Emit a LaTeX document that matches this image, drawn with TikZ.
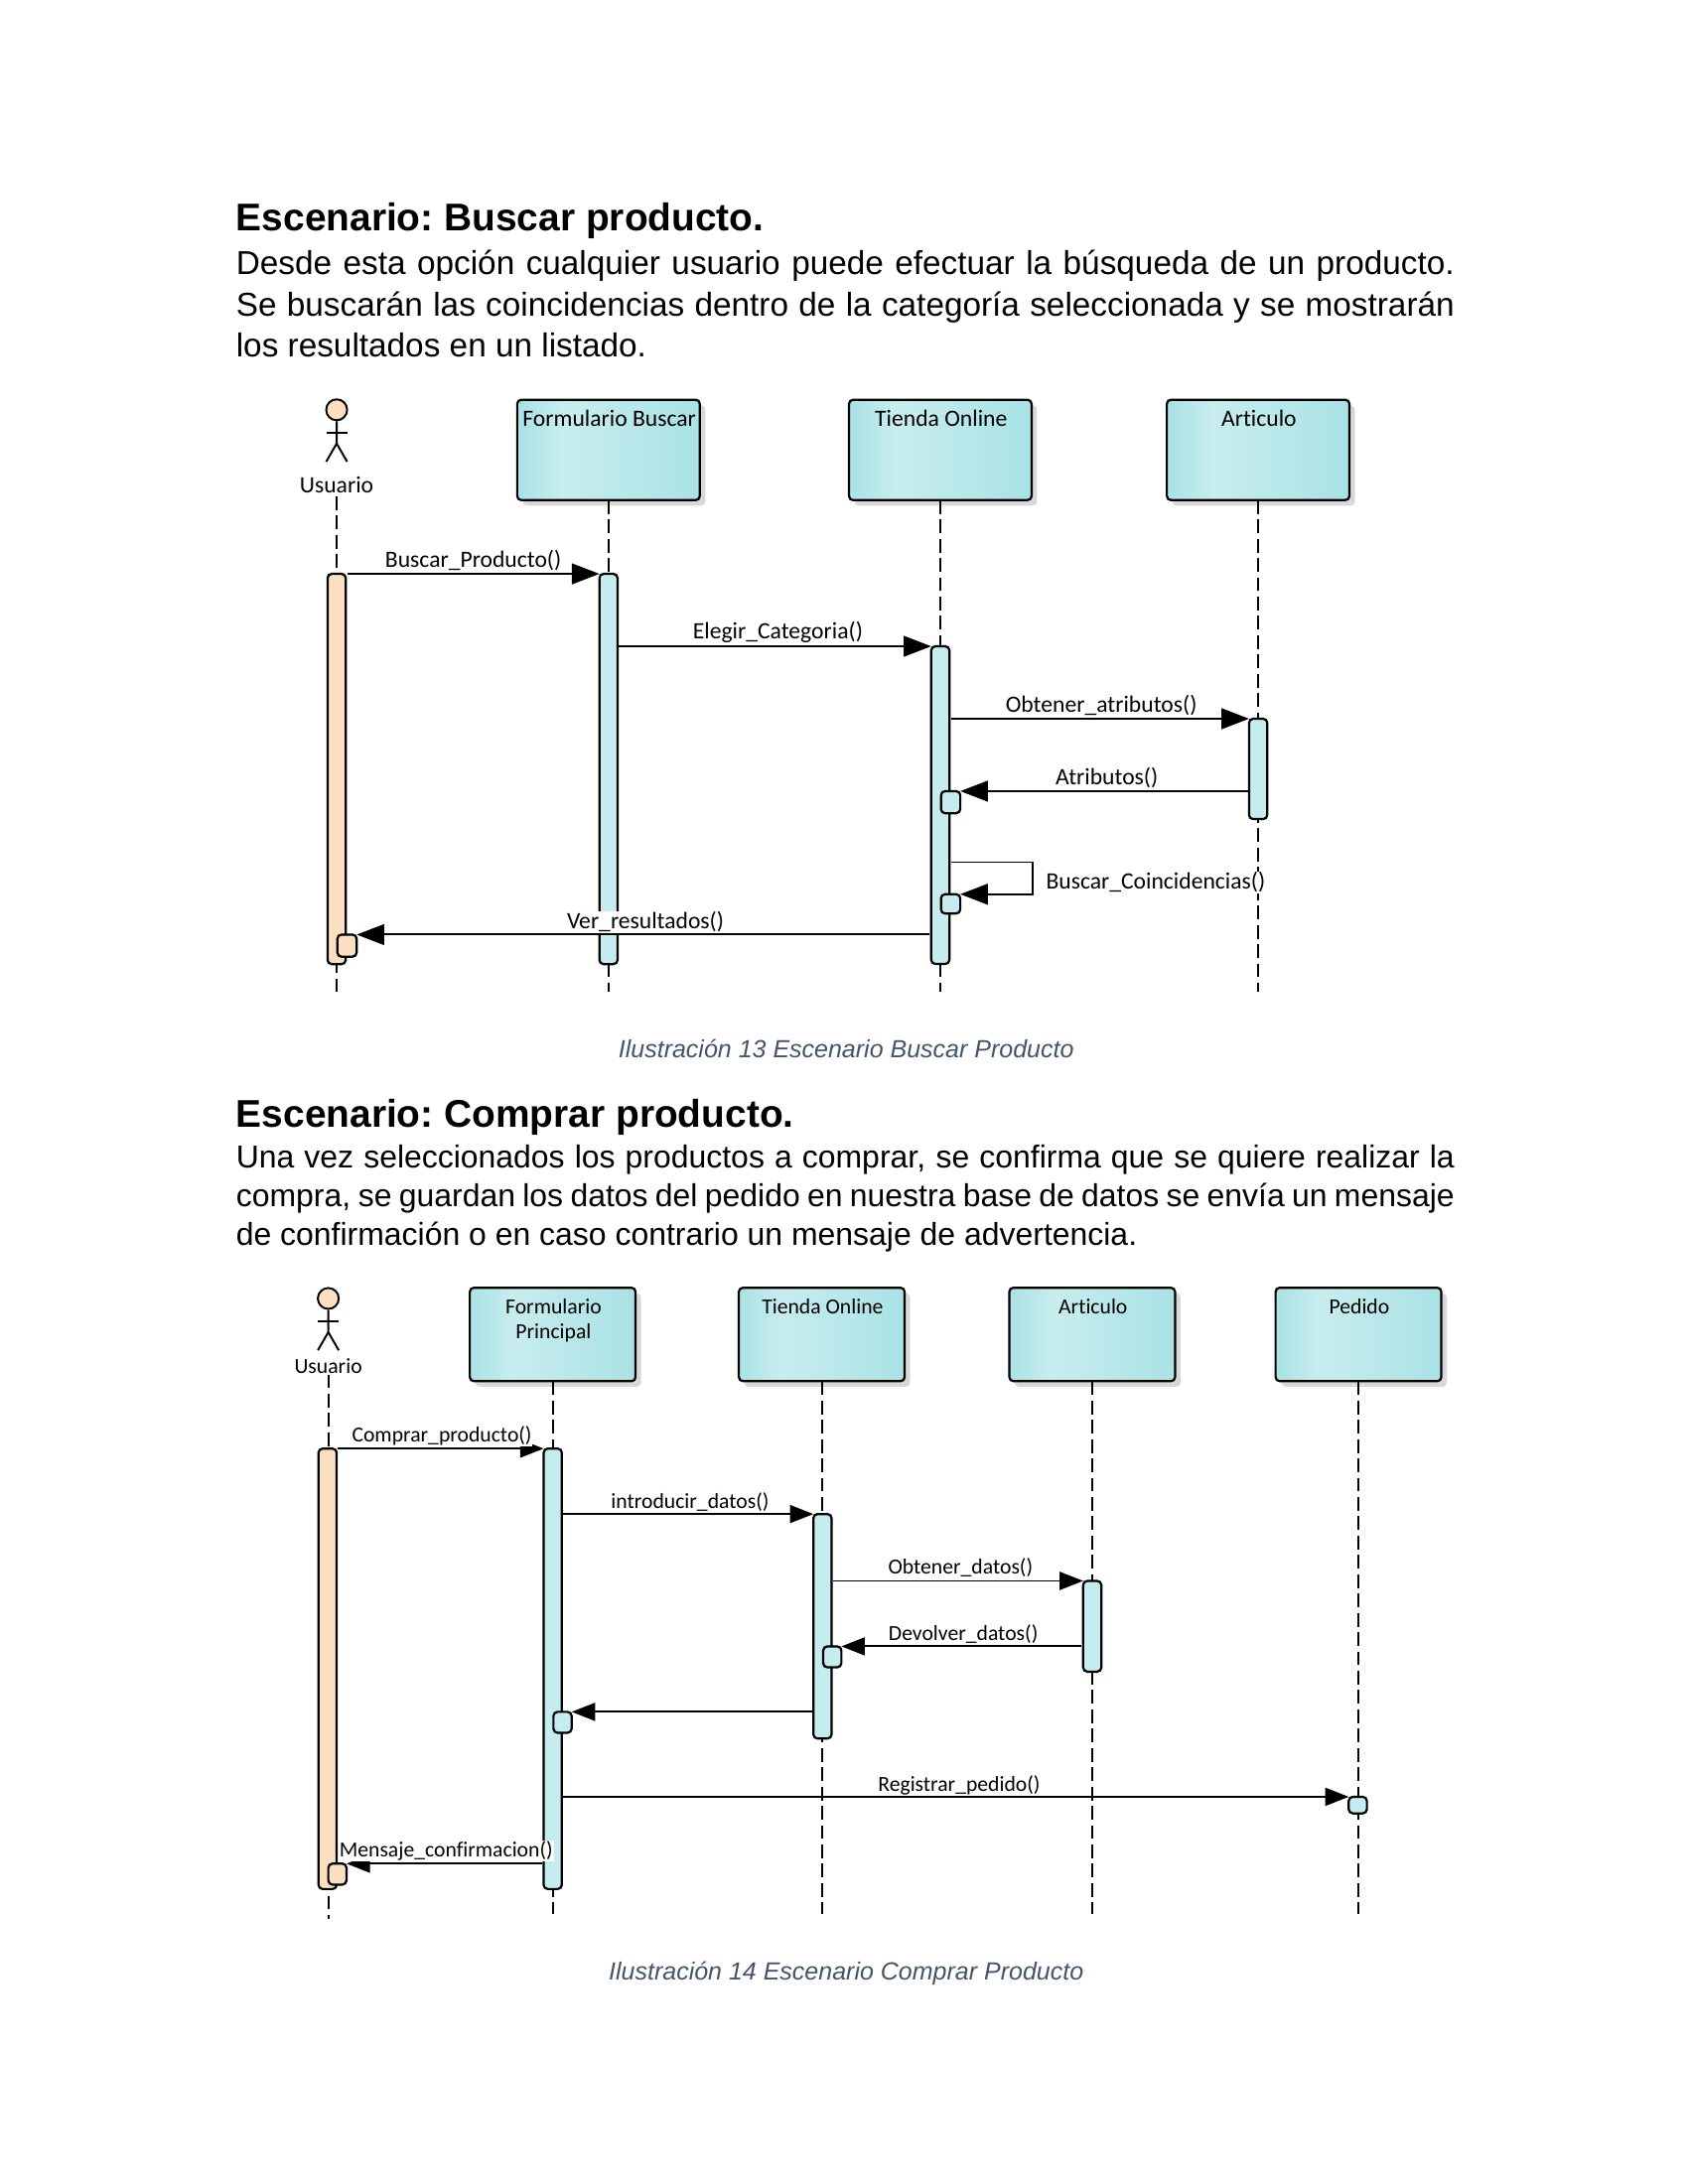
\documentclass[tikz,border=0pt]{standalone}
\usepackage{fontspec}
\setmainfont{Liberation Sans}
\newfontfamily\diagfont[Ligatures=NoCommon]{Carlito}
\usetikzlibrary{arrows.meta,shadows}
\definecolor{boxedge}{HTML}{A9E2E5}
\definecolor{boxlight}{HTML}{C8EDEE}
\definecolor{barblue}{HTML}{C5ECEE}
\definecolor{barskin}{HTML}{FADFC0}
\definecolor{captioncol}{HTML}{44546A}
\pgfdeclarehorizontalshading{boxshade}{100bp}{color(0bp)=(boxedge); color(25bp)=(boxedge); color(38bp)=(boxlight); color(75bp)=(boxedge); color(100bp)=(boxedge)}
\tikzset{
  headtxt/.style={anchor=base west,inner sep=0pt,font=\fontsize{14}{16}\selectfont\bfseries\frenchspacing},
  bodytxt/.style={anchor=north west,inner sep=0pt,text width=441.7pt,align=justify},
  captiontxt/.style={inner sep=0pt,text=captioncol,font=\fontsize{9}{11}\selectfont\itshape},
  objbox/.style={draw,line width=.8pt,rounded corners=1.5pt,shade,shading=boxshade,anchor=north west,
    inner sep=0pt,outer sep=0pt,drop shadow={shadow xshift=2pt,shadow yshift=-2pt,fill=black!30}},
  objlabel/.style={inner sep=0pt,align=center,font=\diagfont\fontsize{8.5}{9}\selectfont},
  objlabelB/.style={objlabel,font=\diagfont\fontsize{7.8}{9}\selectfont},
  lifeline/.style={line width=.7pt,dash pattern=on 5pt off 2pt},
  actbar/.style={draw,line width=.8pt,rounded corners=1.5pt,fill=barblue,anchor=north,minimum width=6.6pt,inner sep=0pt,outer sep=0pt},
  actskin/.style={actbar,fill=barskin},
  msg/.style={line width=.7pt,shorten <=.5pt,-{Triangle[length=10pt,width=7.5pt]}},
  msgB/.style={msg,-{Triangle[length=8.5pt,width=6.5pt]}},
  msglabel/.style={fill=white,inner sep=.3pt,yshift=-.3pt,font=\diagfont\fontsize{8.5}{9}\selectfont},
  msglabelB/.style={msglabel,font=\diagfont\fontsize{7.8}{9}\selectfont},
  stick/.style={line width=.7pt}
}
\begin{document}
\begin{tikzpicture}[x=.50537pt,y=-.50505pt]
  \newcommand\stickman[3]{
    \node[draw,circle,line width=.7pt,fill=barskin,minimum size=7.6pt,inner sep=0pt,anchor=north] (#1) at (#2,#3) {};
    \draw[stick] (#1.south) -- ++(0,16) -- ++(-7.5,13);
    \draw[stick] (#1.south) ++(0,16) -- ++(7.5,13);
    \draw[stick] (#1.south) ++(-7.5,8) -- ++(15,0);
  }

  % ---- first scenario
  \node[headtxt] (head1) at (169,166) {Escenario: Buscar producto.};
  \node[bodytxt,font=\fontsize{12}{14.9}\selectfont] (body1) at (169,179.5) {Desde esta opción cualquier usuario puede efectuar la búsqueda de un producto.\linebreak Se buscarán las coincidencias dentro de la categoría seleccionada y se mostrarán\linebreak los resultados en un listado.};

  \coordinate (endA) at (0,712);
  \stickman{headA}{241.5}{286}
  \node[objlabel] (userA) at (241.5,348) {Usuario};
  \foreach \name/\x/\txt in {formA/371/Formulario Buscar,tiendaA/609/Tienda Online,artA/837/Articulo} {
    \node[objbox,minimum width=66.2pt,minimum height=36.4pt] (\name) at (\x,287) {};
    \node[objlabel] (\name txt) at ([xshift=.3pt,yshift=-6.9pt]\name.north) {\txt};
    \draw[lifeline] (\name.south) -- (\name.south |- endA);
  }
  \draw[lifeline,shorten <=1pt] (userA.south) -- (userA.south |- endA);

  \node[actskin,minimum height=141.5pt] (barU) at (241.5,412) {};
  \node[actbar,minimum height=141.5pt] (barF) at (436.5,412) {};
  \node[actbar,minimum height=115.2pt] (barT) at (674.5,464) {};
  \node[actbar,minimum height=36.4pt] (barR) at (902.5,516) {};
  \node[actbar,minimum width=7pt,minimum height=8pt,anchor=north west] (backT) at (675,568) {};
  \node[actbar,minimum width=7pt,minimum height=7pt,anchor=north west] (selfT) at (675,642) {};
  \node[actskin,minimum width=7pt,minimum height=8pt,anchor=north west] (backU) at (242,671) {};
  \coordinate (loopT) at (741,619);

  \draw[msg] (barU.north east) -- (barF.north west);
  \draw[msg] (barF.east |- barT.north) -- (barT.north west);
  \draw[msg] (barT.east |- barR.north) -- (barR.north west);
  \draw[msg] (barR.west |- backT.north) -- (backT.north east);
  \draw[msg] (barT.east |- loopT) -- (loopT) |- (selfT.north east);
  \draw[msg] (barT.west |- backU.north) -- (backU.north east);

  \node[msglabel] (lblBuscar) at (339.5,401.5) {Buscar\_Producto()};
  \node[msglabel] (lblElegir) at (558,453.5) {Elegir\_Categoria()};
  \node[msglabel] (lblObtener) at (790,505.5) {Obtener\_atributos()};
  \node[msglabel] (lblAtrib) at (794,557.5) {Atributos()};
  \node[msglabel] (lblCoinc) at (829,633) {Buscar\_Coincidencias()};
  \node[msglabel] (lblVer) at (463,661.5) {Ver\_resultados()};

  \node[captiontxt] (cap1) at (607,753) {Ilustración 13 Escenario Buscar Producto};

  % ---- second scenario
  \node[headtxt] (head2) at (169,809) {Escenario: Comprar producto.};
  \node[bodytxt,font=\fontsize{11.5}{14.15}\selectfont] (body2) at (169,821.5) {Una vez seleccionados los productos a comprar, se confirma que se quiere realizar la\linebreak compra, se guardan los datos del pedido en nuestra base de datos se envía un mensaje\linebreak de confirmación o en caso contrario un mensaje de advertencia.};

  \coordinate (endB) at (0,1374);
  \coordinate (endUser) at (0,1378);
  \stickman{headB}{235.5}{924}
  \node[objlabelB] (userB) at (235.5,981) {Usuario};
  \foreach \name/\x/\txt in {formB/337/{Formulario\\Principal},tiendaB/530/Tienda Online,artB/724/Articulo,pedB/915/Pedido} {
    \node[objbox,minimum width=60.1pt,minimum height=33.9pt] (\name) at (\x,924.5) {};
    \node[objlabelB,anchor=north] (\name txt) at ([xshift=.3pt,yshift=-3.9pt]\name.north) {\txt};
    \draw[lifeline] (\name.south) -- (\name.south |- endB);
  }
  \draw[lifeline] (userB.south) -- (userB.south |- endUser);

  \node[actskin,minimum height=159.7pt] (barU2) at (235,1040) {};
  \node[actbar,minimum height=159.7pt] (barF2) at (396.5,1040) {};
  \node[actbar,minimum height=81.4pt] (barT2) at (590,1087) {};
  \node[actbar,minimum height=32.9pt] (barR2) at (783.5,1135) {};
  \node[actbar,minimum height=6pt] (barP2) at (974,1290) {};
  \node[actbar,anchor=north west,minimum height=7.6pt] (backT2) at (590.5,1182) {};
  \node[actbar,anchor=north west,minimum height=7.6pt] (backF2) at (397,1229) {};
  \node[actskin,anchor=north west,minimum height=7.6pt] (backU2) at (235.5,1338) {};

  \draw[msgB] (barU2.north east) -- (barF2.north west);
  \draw[msgB] (barF2.east |- barT2.north) -- (barT2.north west);
  \draw[msgB] (barT2.east |- barR2.north) -- (barR2.north west);
  \draw[msgB] (barR2.west |- backT2.north) -- (backT2.north east);
  \draw[msgB] (barT2.west |- backF2.north) -- (backF2.north east);
  \draw[msgB] (barF2.east |- barP2.north) -- (barP2.north west);
  \draw[msgB] (barF2.west |- backU2.north) -- (backU2.north east);

  \node[msglabelB] (lblComprar) at (317,1030) {Comprar\_producto()};
  \node[msglabelB] (lblIntro) at (495,1077.5) {introducir\_datos()};
  \node[msglabelB] (lblDatos) at (689,1125) {Obtener\_datos()};
  \node[msglabelB] (lblDevolver) at (691,1172.5) {Devolver\_datos()};
  \node[msglabelB] (lblPedido) at (688,1281) {Registrar\_pedido()};
  \node[msglabelB] (lblMensaje) at (320,1328.5) {Mensaje\_confirmacion()};

  \node[captiontxt] (cap2) at (607,1417) {Ilustración 14 Escenario Comprar Producto};

  \pgfresetboundingbox
  \useasboundingbox (0,0) rectangle (1211,1568);
\end{tikzpicture}
\end{document}
